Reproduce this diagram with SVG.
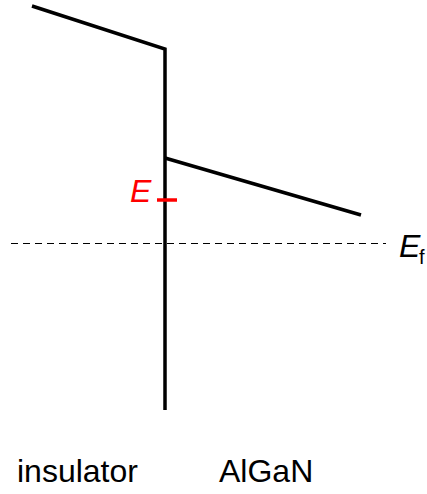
<svg xmlns="http://www.w3.org/2000/svg" width="427" height="494" viewBox="0 0 427 494">
<style>
.b{fill:none;stroke:#000;stroke-width:3.5;stroke-linejoin:miter}
text{font-family:"Liberation Sans",Arial,sans-serif}
</style>
<rect width="427" height="494" fill="#fff"/>
<g id="connectors">
<polyline class="b" points="32,6 165,49 165,410"/>
<line class="b" x1="165" y1="158" x2="361" y2="215"/>
<line x1="11" y1="243.5" x2="386" y2="243.5" stroke="#000" stroke-width="1" stroke-dasharray="7,5"/>
<line x1="157" y1="200" x2="177" y2="200" stroke="#ff0000" stroke-width="3.5"/>
</g>
<g id="labels">
<text x="130" y="202" font-size="32" font-style="italic" fill="#ff0000">E</text>
<text x="399" y="257" font-size="32" font-style="italic">E</text>
<text x="419" y="264" font-size="20">f</text>
<text x="17" y="482" font-size="32">insulator</text>
<text x="219" y="482" font-size="32">AlGaN</text>
</g>
</svg>
